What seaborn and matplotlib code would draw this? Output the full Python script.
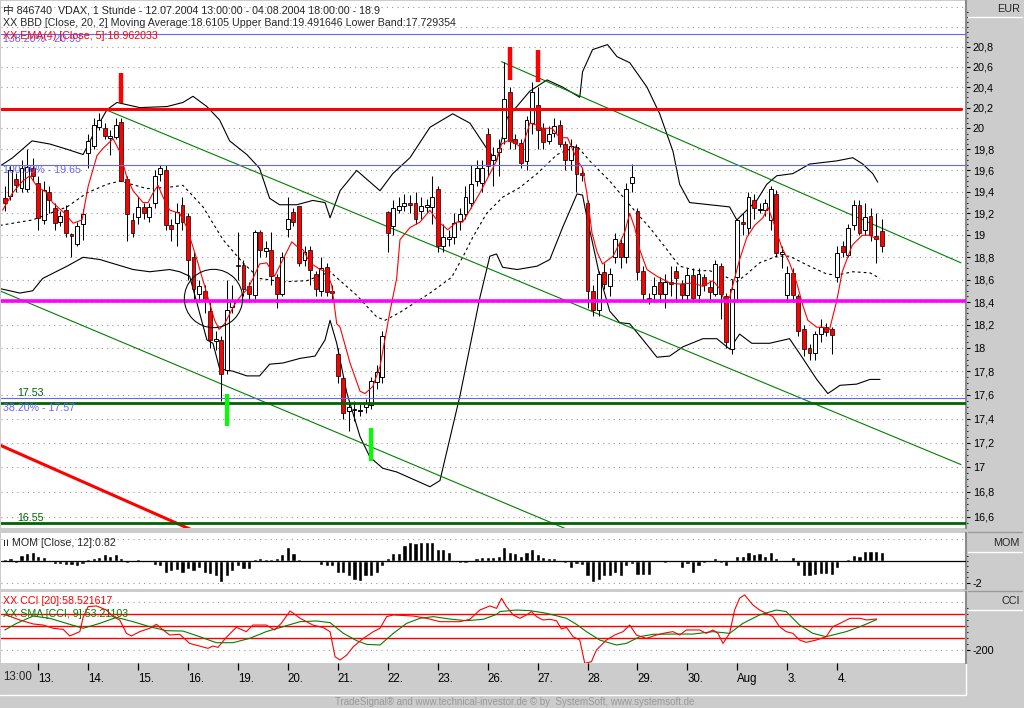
import numpy as np
import pandas as pd
import matplotlib
matplotlib.use("Agg")
import matplotlib.pyplot as plt
import matplotlib.ticker as mticker
from matplotlib.lines import Line2D
import seaborn as sns

# ---------------- data (hourly bars, 12.07.2004 13:00 - 04.08.2004 18:00) ----------------
opens = [
    19.34, 19.36, 19.52, 19.44, 19.43, 19.62, 19.48, 19.14, 19.40, 19.25,
    19.12, 19.23, 19.01, 18.92, 19.10, 19.76, 19.83, 20.01, 20.00, 19.91,
    19.92, 20.06, 19.52, 19.14, 19.17, 19.26, 19.17, 19.30, 19.57, 19.60,
    19.09, 19.11, 19.28, 19.18, 18.80, 18.47, 18.50, 18.32, 18.06, 18.07,
    17.81, 18.36, 18.73, 18.73, 18.54, 18.46, 19.03, 18.86, 18.87, 18.62,
    18.47, 19.06, 19.21, 19.27, 18.78, 18.87, 18.65, 18.50, 18.71, 18.50,
    17.95, 17.74, 17.46, 17.47, 17.46, 17.50, 17.51, 17.71, 17.75, 19.21,
    19.08, 19.23, 19.27, 19.30, 19.30, 19.22, 19.26, 19.26, 19.43, 18.90,
    18.97, 18.98, 19.13, 19.19, 19.30, 19.50, 19.48, 19.95, 19.70, 19.77,
    19.91, 20.35, 19.90, 19.86, 19.69, 20.05, 20.23, 20.00, 19.88, 19.96,
    20.03, 19.85, 19.70, 19.82, 19.58, 19.30, 18.50, 18.33, 18.67, 18.54,
    18.80, 18.93, 18.80, 19.48, 19.22, 18.68, 18.44, 18.47, 18.58, 18.47,
    18.58, 18.68, 18.56, 18.46, 18.64, 18.46, 18.62, 18.53, 18.47, 18.72,
    18.45, 17.99, 18.62, 19.12, 19.07, 19.32, 19.23, 19.23, 19.14, 19.38,
    18.83, 18.46, 18.66, 18.45, 18.16, 18.00, 17.96, 18.12, 18.18, 18.16,
    18.62, 18.90, 18.82, 19.09, 19.28, 19.05, 19.18, 18.99, 19.04,
]
highs = [
    19.45, 19.65, 19.58, 19.70, 19.80, 19.72, 19.55, 19.50, 19.45, 19.30,
    19.22, 19.28, 19.02, 19.12, 19.24, 19.95, 20.10, 20.15, 20.05, 19.98,
    20.10, 20.10, 19.55, 19.20, 19.35, 19.30, 19.30, 19.60, 19.65, 19.65,
    19.15, 19.30, 19.35, 19.20, 18.85, 18.60, 18.55, 18.40, 18.15, 18.10,
    18.60, 18.55, 19.03, 18.78, 18.58, 19.05, 19.05, 18.95, 19.03, 18.65,
    18.85, 19.35, 19.25, 19.27, 18.90, 18.90, 18.68, 18.80, 18.75, 18.55,
    18.00, 17.76, 17.55, 17.55, 17.52, 17.56, 17.75, 17.85, 18.15, 19.22,
    19.32, 19.35, 19.38, 19.37, 19.40, 19.35, 19.33, 19.55, 19.45, 19.10,
    19.05, 19.20, 19.25, 19.45, 19.65, 19.70, 19.70, 20.00, 19.82, 19.90,
    20.65, 20.40, 19.95, 19.90, 20.12, 20.45, 20.40, 20.05, 20.02, 20.10,
    20.08, 19.88, 19.90, 19.85, 19.62, 19.32, 18.55, 18.68, 18.75, 18.70,
    19.02, 18.97, 19.48, 19.66, 19.25, 18.72, 18.48, 18.62, 18.62, 18.65,
    18.72, 18.72, 18.60, 18.70, 18.70, 18.70, 18.65, 18.60, 18.78, 18.75,
    18.48, 18.60, 19.15, 19.20, 19.40, 19.38, 19.30, 19.33, 19.45, 19.42,
    18.90, 18.72, 18.70, 18.47, 18.20, 18.03, 18.15, 18.25, 18.22, 18.18,
    18.90, 18.95, 19.10, 19.32, 19.32, 19.30, 19.25, 19.20, 19.15,
]
lows = [
    19.22, 19.32, 19.40, 19.40, 19.40, 19.50, 19.05, 19.10, 19.20, 19.05,
    19.08, 18.98, 18.80, 18.90, 18.96, 19.62, 19.80, 19.98, 19.90, 19.75,
    19.90, 19.50, 18.95, 18.98, 19.10, 19.15, 19.12, 19.25, 19.50, 19.05,
    18.95, 18.90, 19.05, 18.60, 18.42, 18.40, 18.30, 18.00, 17.98, 17.55,
    17.78, 18.30, 18.60, 18.45, 18.40, 18.43, 18.80, 18.80, 18.55, 18.35,
    18.45, 18.98, 19.08, 18.72, 18.72, 18.55, 18.45, 18.45, 18.45, 18.40,
    17.70, 17.40, 17.30, 17.38, 17.42, 17.45, 17.48, 17.65, 17.70, 18.85,
    19.00, 19.20, 19.22, 19.20, 19.10, 19.15, 19.20, 19.10, 18.85, 18.85,
    18.90, 18.92, 19.05, 19.15, 19.25, 19.45, 19.40, 19.55, 19.45, 19.55,
    19.85, 19.80, 19.80, 19.62, 19.60, 19.95, 19.80, 19.80, 19.85, 19.92,
    19.82, 19.60, 19.60, 19.40, 19.50, 18.35, 18.28, 18.28, 18.52, 18.45,
    18.75, 18.70, 18.75, 19.40, 18.60, 18.40, 18.38, 18.40, 18.40, 18.35,
    18.45, 18.40, 18.40, 18.40, 18.40, 18.40, 18.50, 18.40, 18.45, 18.25,
    18.00, 17.95, 18.40, 19.00, 19.00, 19.15, 19.20, 19.18, 19.05, 18.80,
    18.70, 18.40, 18.40, 18.10, 17.93, 17.90, 17.90, 18.05, 18.10, 17.95,
    18.58, 18.80, 18.80, 19.05, 19.00, 19.00, 18.95, 18.75, 18.85,
]
closes = [
    19.30, 19.60, 19.46, 19.62, 19.63, 19.55, 19.16, 19.42, 19.32, 19.11,
    19.18, 19.02, 18.99, 19.08, 19.19, 19.88, 20.03, 20.08, 19.93, 19.93,
    20.03, 19.50, 19.19, 19.02, 19.26, 19.20, 19.26, 19.55, 19.62, 19.09,
    19.06, 19.21, 19.12, 18.78, 18.52, 18.54, 18.43, 18.07, 18.08, 17.78,
    18.33, 18.41, 18.72, 18.52, 18.47, 19.03, 18.87, 18.88, 18.63, 18.47,
    18.80, 19.15, 19.12, 18.75, 18.85, 18.69, 18.52, 18.70, 18.49, 18.48,
    17.76, 17.45, 17.50, 17.48, 17.47, 17.53, 17.72, 17.79, 18.10, 19.02,
    19.25, 19.27, 19.30, 19.28, 19.15, 19.27, 19.28, 19.35, 18.90, 18.98,
    18.98, 19.11, 19.19, 19.35, 19.47, 19.62, 19.62, 19.64, 19.75, 19.81,
    20.28, 19.88, 19.86, 19.67, 20.08, 20.35, 19.98, 19.87, 19.95, 20.02,
    19.85, 19.70, 19.83, 19.57, 19.56, 18.50, 18.33, 18.65, 18.56, 18.65,
    18.97, 18.80, 19.43, 19.54, 18.67, 18.47, 18.42, 18.54, 18.47, 18.58,
    18.56, 18.61, 18.46, 18.64, 18.44, 18.65, 18.55, 18.49, 18.74, 18.47,
    18.05, 18.52, 19.14, 19.10, 19.35, 19.25, 19.24, 19.30, 19.43, 18.84,
    18.85, 18.66, 18.46, 18.15, 17.99, 17.96, 18.12, 18.18, 18.14, 18.11,
    18.84, 18.85, 19.07, 19.28, 19.02, 19.17, 19.00, 18.97, 18.90,
]

# Bollinger bands (bar index, price)
bb_upper_bar = [-0.9, 1.4, 4.9, 8.1, 11.2, 14.1, 16.6, 18.4, 20.2, 24.3, 29.2, 32.1, 33.9, 36.4,
                38.7, 40.5, 43.6, 45.9, 47.7, 49.5, 52.6, 55.5, 57.7, 58.6, 60.4, 63.4, 67.6,
                69.9, 73.0, 76.6, 80.7, 83.8, 86.8, 88.6, 90.5, 94.6, 97.7, 100.5, 103.6,
                104.1, 105.9, 108.6, 110.3, 112.6, 115.7, 118.0, 120.4, 121.6, 123.4, 130.6,
                131.9, 133.7, 135.5, 137.3, 139.1, 142.0, 145.0, 149.9, 152.8, 154.6, 156.4, 157.3]
bb_upper_val = [19.64, 19.72, 19.88, 19.85, 19.80, 19.75, 20.01, 20.18, 20.25, 20.20, 20.21, 20.25,
                20.31, 20.21, 20.08, 19.88, 19.75, 19.62, 19.34, 19.28, 19.28, 19.32, 19.30, 19.16,
                19.41, 19.60, 19.41, 19.57, 19.72, 20.01, 20.14, 20.05, 19.81, 19.69, 20.10, 20.36,
                20.47, 20.40, 20.30, 20.55, 20.77, 20.82, 20.70, 20.64, 20.40, 20.14, 19.78, 19.47,
                19.30, 19.26, 19.14, 19.23, 19.32, 19.47, 19.55, 19.57, 19.66, 19.69, 19.72, 19.66,
                19.57, 19.49]
bb_mid_bar = [-0.9, 5.0, 11.2, 14.8, 18.4, 20.7, 25.6, 29.2, 32.1, 35.7, 39.3, 42.9, 45.9, 50.1,
              54.4, 58.6, 63.4, 67.0, 68.5, 71.2, 76.6, 80.5, 82.5, 84.3, 86.8, 89.7, 92.8, 95.9,
              99.5, 103.1, 105.4, 109.0, 113.9, 116.2, 119.3, 121.6, 124.7, 127.0, 130.1, 131.9,
              133.7, 136.0, 139.1, 141.4, 145.0, 148.1, 149.9, 152.8, 155.9, 157.7]
bb_mid_val = [19.09, 19.14, 19.26, 19.39, 19.47, 19.50, 19.43, 19.44, 19.46, 19.26, 18.96, 18.75,
              18.61, 18.58, 18.59, 18.67, 18.46, 18.27, 18.24, 18.31, 18.48, 18.62, 18.80, 18.98,
              19.20, 19.35, 19.44, 19.57, 19.75, 19.83, 19.69, 19.50, 19.20, 19.07, 18.87, 18.72,
              18.68, 18.68, 18.62, 18.58, 18.65, 18.75, 18.81, 18.81, 18.72, 18.65, 18.64, 18.67,
              18.66, 18.61]
bb_lower_bar = [-0.9, 2.7, 5.0, 6.8, 11.2, 14.1, 17.1, 23.1, 26.1, 29.7, 31.5, 33.3, 36.4, 37.5,
                38.7, 41.1, 43.6, 45.9, 47.7, 50.1, 53.2, 55.9, 57.7, 58.6, 59.8, 61.6, 64.0, 65.8,
                68.1, 70.6, 76.6, 78.4, 82.0, 85.6, 87.4, 88.6, 89.7, 92.3, 95.9, 98.2, 100.5,
                103.1, 104.1, 104.9, 105.9, 107.2, 109.0, 110.8, 112.6, 115.0, 117.5, 119.8, 122.2,
                125.8, 128.3, 130.6, 132.4, 134.6, 137.8, 141.4, 143.8, 146.3, 148.3, 150.5, 153.5,
                155.9, 157.7]
bb_lower_val = [18.52, 18.48, 18.50, 18.61, 18.72, 18.80, 18.78, 18.69, 18.67, 18.69, 18.67, 18.63,
                18.07, 18.04, 17.82, 17.80, 17.76, 17.76, 17.86, 17.87, 17.91, 17.93, 18.07, 18.24,
                18.04, 17.62, 17.25, 17.08, 16.99, 16.96, 16.84, 16.89, 17.59, 18.44, 18.81, 18.83,
                18.71, 18.69, 18.72, 18.78, 19.07, 19.38, 19.37, 19.16, 18.93, 18.63, 18.32, 18.22,
                18.21, 18.07, 17.92, 17.93, 18.01, 18.08, 18.08, 17.99, 18.12, 18.04, 18.04, 18.08,
                17.91, 17.73, 17.61, 17.68, 17.69, 17.73, 17.73]

# EMA(4) of close (bar index, price)
ema_bar = [-0.4, 1.4, 3.2, 4.5, 5.8, 7.6, 8.6, 10.8, 12.3, 13.9, 15.0, 16.6, 17.7, 19.5, 20.7, 22.0,
           23.1, 24.9, 25.8, 26.7, 27.6, 28.5, 29.7, 31.5, 32.8, 34.6, 36.6, 37.8, 38.6, 39.6, 41.4,
           42.6, 43.8, 44.7, 45.9, 47.2, 48.6, 50.1, 51.7, 52.6, 53.7, 55.0, 56.8, 58.0, 58.9, 59.8,
           60.4, 62.2, 64.0, 64.9, 66.3, 67.6, 69.4, 70.6, 71.2, 73.0, 74.8, 76.6, 77.8, 79.8, 81.4,
           82.5, 83.8, 85.6, 87.4, 88.6, 89.5, 90.6, 91.9, 93.2, 94.6, 95.9, 96.9, 98.6, 100.0,
           101.4, 103.1, 104.1, 104.9, 105.8, 106.7, 107.7, 109.6, 110.8, 111.7, 112.6, 113.5,
           114.4, 115.7, 117.5, 119.8, 121.6, 124.0, 125.8, 127.6, 128.8, 129.7, 130.6, 131.5,
           132.4, 133.7, 135.1, 136.6, 137.5, 138.7, 140.0, 141.4, 142.7, 143.8, 144.7, 146.3,
           147.4, 148.6, 149.9, 150.9, 152.7, 154.5, 155.7, 157.5]
ema_val = [19.23, 19.39, 19.50, 19.55, 19.45, 19.39, 19.30, 19.20, 19.11, 19.14, 19.45, 19.74, 19.81,
           19.90, 19.78, 19.53, 19.41, 19.30, 19.30, 19.39, 19.46, 19.35, 19.23, 19.20, 19.07, 18.78,
           18.44, 18.24, 18.16, 18.21, 18.38, 18.46, 18.52, 18.61, 18.74, 18.75, 18.63, 18.78, 18.94,
           18.90, 18.87, 18.75, 18.69, 18.67, 18.55, 18.21, 18.18, 17.87, 17.63, 17.61, 17.67, 17.84,
           18.32, 18.61, 18.96, 19.07, 19.12, 19.23, 19.14, 19.05, 19.12, 19.12, 19.23, 19.39, 19.57,
           19.69, 19.85, 19.88, 19.86, 19.81, 20.05, 20.03, 20.00, 20.00, 19.91, 19.91, 19.70, 19.62,
           19.38, 19.02, 18.85, 18.74, 18.81, 18.93, 19.03, 19.20, 19.07, 18.87, 18.69, 18.63, 18.57,
           18.56, 18.57, 18.54, 18.59, 18.52, 18.41, 18.44, 18.61, 18.78, 18.98, 19.09, 19.16, 19.26,
           19.09, 18.89, 18.75, 18.57, 18.37, 18.24, 18.18, 18.18, 18.16, 18.41, 18.67, 18.91, 19.00,
           19.00, 18.96]

# MOM [Close, 12] per bar
mom = [
    0.15, 0.3, -0.2, 0.55, 0.7, 0.8, 0.45, 0.4, 0.0, -0.3, -0.3,
    -0.4, -0.35, -0.5, -0.3, 0.2, 0.3, 0.4, 0.65, 0.45, 0.65,
    0.3, -0.15, -0.1, 0.15, 0.1, 0.0, -0.4, -0.5, -1.05, -0.95,
    -0.8, -1.05, -0.75, -0.9, -0.65, -1.1, -1.2, -1.35, -1.9, -1.35,
    -0.95, -0.5, -0.75, -0.75, 0.2, 0.3, 0.2, 0.2, 0.3, 0.6,
    1.3, 0.7, 0.2, 0.1, 0.1, 0.0, -0.4, -0.45, -0.45, -1.1,
    -1.1, -1.35, -1.7, -1.8, -1.35, -1.35, -1.05, -0.5, 0.3, 0.7,
    0.75, 1.45, 1.7, 1.6, 1.7, 1.7, 1.7, 1.1, 1.1, 0.85,
    0.0, -0.2, -0.2, 0.0, 0.3, 0.4, 0.4, 0.4, 0.45,
    1.3, 0.8, 0.7, 0.45, 0.8, 1.1, 0.6, 0.35, 0.3, 0.3,
    0.0, -0.2, -0.6, -0.3, -0.4, -1.4, -1.9, -1.7, -1.4, -1.35,
    -1.05, -1.35, -0.5, -0.3, -1.25, -1.25, -1.25, 0.0, 0.1, -0.2,
    -0.1, -0.1, -0.65, -0.3, -1.1, -0.5, -0.2, 0.0, 0.3, -0.2,
    -0.45, -0.1, 0.5, 0.5, 0.8, 0.6, 0.7, 0.5, 0.8, 0.3,
    0.0, 0.1, 0.4, -0.5, -1.35, -1.35, -1.25, -1.2, -1.2, -1.25,
    -0.6, -0.1, 0.2, 0.55, 0.5, 0.9, 0.9, 0.9, 0.82,
]

# CCI(20) and SMA(CCI, 9) (bar index, value)
cci_bar = [0.0, 2.7, 5.1, 6.9, 8.7, 10.5, 11.7, 13.5, 14.1, 15.0, 16.5, 18.3, 19.5, 20.7, 21.9, 22.8,
           24.3, 26.1, 27.3, 28.5, 29.7, 31.5, 33.3, 35.1, 36.6, 37.5, 38.4, 39.9, 41.7, 43.5, 44.7,
           47.1, 48.6, 49.8, 51.4, 53.2, 55.5, 57.4, 58.6, 59.5, 60.4, 61.6, 62.8, 64.6, 66.4, 67.6,
           68.8, 70.0, 73.6, 76.0, 78.4, 82.0, 83.8, 85.6, 87.4, 88.6, 89.5, 90.4, 91.6, 92.8, 94.0,
           94.9, 95.8, 97.0, 98.2, 99.4, 100.3, 101.2, 102.4, 103.6, 104.5, 105.7, 106.6, 108.4,
           109.9, 111.4, 112.6, 113.8, 115.6, 117.4, 119.2, 120.4, 121.6, 122.8, 125.2, 126.4,
           127.6, 128.5, 129.4, 130.6, 131.5, 132.4, 133.3, 134.8, 136.0, 137.2, 138.4, 139.6,
           140.8, 142.0, 143.2, 144.4, 146.2, 148.0, 149.2, 150.5, 152.3, 154.1, 155.3, 157.1]
cci_val = [95, 50, 17, 8, -19, -28, -83, -47, 72, 161, 167, 133, 78, 50, -61, -83, -47, -19, 14, -33,
           -75, -69, -145, -167, -186, -167, -178, -95, -11, -47, 8, 8, -33, 22, 125, 64, 8, -14,
           -47, -256, -283, -242, -172, -103, -47, -19, 78, 92, 83, 64, 36, 36, 56, 133, 167, 147,
           231, 161, 92, 64, 92, 120, 78, 50, 56, 44, -25, -11, -89, -117, -311, -297, -200, -117,
           -75, -47, 8, -75, -103, -75, -56, -47, -75, -33, -33, -61, -33, -61, -145, -61, 133, 231,
           259, 175, 133, 106, 78, -6, -47, -61, -117, -136, -117, -89, -6, 22, 64, 64, 50, 58.5]
sma_bar = [0.0, 2.1, 5.1, 8.1, 11.1, 14.1, 17.1, 20.1, 23.1, 26.1, 29.1, 32.1, 35.1, 38.1, 41.1, 44.1,
           47.1, 50.1, 53.2, 56.2, 58.6, 61.0, 63.4, 65.2, 67.6, 70.0, 72.4, 74.8, 77.2, 80.2, 83.2,
           86.2, 88.6, 89.2, 92.2, 94.6, 97.6, 101.2, 103.0, 104.8, 107.2, 110.2, 112.0, 114.4,
           116.8, 120.4, 124.0, 127.6, 130.6, 133.0, 136.0, 139.0, 140.8, 143.2, 145.6, 148.0,
           151.6, 154.1, 157.1]
sma_val = [-33, 22, 83, 64, 22, -19, 22, 72, 36, -6, -39, -42, -89, -139, -139, -103, -47, -6, 36, 42,
           28, -61, -122, -153, -158, -61, 22, 64, 78, 58, 44, 56, 97, 120, 133, 128, 106, 64, 14,
           -47, -117, -158, -145, -89, -69, -67, -67, -47, -61, 22, 92, 133, 120, 8, -61, -89, -47,
           -6, 53.2]

# horizontal levels and drawn objects
fib_levels = [20.93, 19.65, 17.57]
fib_texts = ["138.20% - 20.93", "100.00% - 19.65", "38.20% - 17.57"]
resistance_level = 20.19
pivot_level = 18.41
support_levels = [17.53, 16.55]
channel_upper = ([18.6, 172.3], [20.17, 17.02])
channel_lower = ([-0.9, 104.0], [18.50, 16.45])
channel_right = ([89.5, 172.3], [20.65, 18.75])
downtrend_red = ([-0.9, 36.0], [17.18, 16.45])
sell_bars, sell_top, sell_bot = [21, 91, 96], [20.54, 20.80, 20.77], [20.24, 20.47, 20.45]
buy_bars, buy_top, buy_bot = [40, 66], [17.61, 17.32], [17.34, 17.05]
circle_bar, circle_price = 37.5, 18.44

day_ticks = [6, 15, 24, 33, 42, 51, 60, 69, 78, 87, 96, 105, 114, 123, 132, 141, 150]
day_labels = ["13.", "14.", "15.", "16.", "19.", "20.", "21.", "22.", "23.", "26.", "27.",
              "28.", "29.", "30.", "Aug", "3.", "4."]
price_ticks = [16.6, 16.8, 17.0, 17.2, 17.4, 17.6, 17.8, 18.0, 18.2, 18.4, 18.6, 18.8,
               19.0, 19.2, 19.4, 19.6, 19.8, 20.0, 20.2, 20.4, 20.6, 20.8]

# ---------------- style ----------------
sns.set_style("white")
plt.rcParams['font.family'] = ['Liberation Sans', 'DejaVu Sans', 'Noto Sans CJK SC']
plt.rcParams['lines.scale_dashes'] = False

GREY = '#cccccc'
BLUE = '#6464ff'
DOTS = dict(color='#9a9a9a', lw=0.8, linestyle=(0, (0.8, 3.0)), zorder=0)
FS = 7.7

W, H = 1024, 708
def fx(px):
    return px / W
def fy(py):
    return 1 - py / H

fig = plt.figure(figsize=(10.24, 7.08), dpi=100, facecolor=GREY)
ax = fig.add_axes([fx(1), fy(528), fx(965), 527 / H])
ax_mom = fig.add_axes([fx(1), fy(589), fx(965), 56 / H])
ax_cci = fig.add_axes([fx(1), fy(663), fx(965), 71 / H])

n = len(closes)
bars = np.arange(n)
df = pd.DataFrame({'bar': bars, 'open': opens, 'high': highs, 'low': lows, 'close': closes})

for a in (ax, ax_mom, ax_cci):
    a.set_facecolor('white')
    for s in ('top', 'left', 'bottom'):
        a.spines[s].set_visible(False)
    a.spines['right'].set_color('#8c8c8c')
    a.spines['right'].set_linewidth(1.5)
    a.set_xlim(-0.7, 173.2)
    a.yaxis.tick_right()
    a.tick_params(axis='y', which='major', labelsize=7.8, length=3, width=0.8, pad=2, colors='black')
    a.tick_params(axis='y', which='minor', length=1.2, width=0.8)
    a.tick_params(axis='x', which='both', bottom=False, labelbottom=False)

# ---------------- main price panel ----------------
ax.set_yscale('log')
ax.set_ylim(16.51, 21.26)
ax.yaxis.set_major_locator(mticker.FixedLocator(price_ticks))
ax.yaxis.set_major_formatter(mticker.FixedFormatter([f"{v:g}".replace('.', ',') for v in price_ticks]))
ax.yaxis.set_minor_locator(mticker.FixedLocator(np.arange(16.55, 21.2, 0.05)))
ax.yaxis.set_minor_formatter(mticker.NullFormatter())

for v in price_ticks + [21.0, 21.2]:
    ax.axhline(v, **DOTS)

# bollinger bands
sns.lineplot(x=bb_upper_bar, y=bb_upper_val, ax=ax, color='black', lw=0.8, sort=False,
             estimator=None, legend=False, zorder=2)
sns.lineplot(x=bb_lower_bar, y=bb_lower_val, ax=ax, color='black', lw=0.8, sort=False,
             estimator=None, legend=False, zorder=2)
sns.lineplot(x=bb_mid_bar, y=bb_mid_val, ax=ax, color='black', lw=0.8, sort=False,
             estimator=None, legend=False, zorder=2, linestyle=(0, (2.0, 2.2)))

# trend channel lines
for xs, ys in (channel_upper, channel_lower, channel_right):
    ax.plot(xs, ys, color='#008000', lw=0.8, zorder=2)
ax.plot(*downtrend_red, color='#ff0000', lw=2.2, zorder=2)

# candles
up = df[df['close'] >= df['open']]
dn = df[df['close'] < df['open']]
ax.vlines(df['bar'], df['low'], df['high'], color='black', lw=0.75, zorder=3)
ax.bar(up['bar'], np.maximum(up['close'] - up['open'], 0.012), bottom=up['open'], width=0.7,
       color='white', edgecolor='black', linewidth=0.7, zorder=4)
ax.bar(dn['bar'], np.maximum(dn['open'] - dn['close'], 0.012), bottom=dn['close'], width=0.7,
       color='#ff0000', edgecolor='black', linewidth=0.5, zorder=4)

# EMA
sns.lineplot(x=ema_bar, y=ema_val, ax=ax, color='#ff0000', lw=0.8, sort=False,
             estimator=None, legend=False, zorder=5)

# levels
for v in fib_levels:
    ax.axhline(v, color=BLUE, lw=0.8, zorder=6)
ax.axhline(resistance_level, xmax=0.995, color='#ff0000', lw=2.2, zorder=6)
ax.axhline(pivot_level, color='#ff00ff', lw=2.6, zorder=6)
for v in support_levels:
    ax.axhline(v, color='#006400', lw=2.0, zorder=6)

# signal markers and circle
ax.vlines(sell_bars, sell_bot, sell_top, color='#ff0000', lw=3.2, zorder=7)
ax.vlines(buy_bars, buy_bot, buy_top, color='#00ff00', lw=3.0, zorder=7)
ax.plot([circle_bar], [circle_price], marker='o', ms=42, mfc='none', mec='black', mew=0.75, zorder=7)

# level labels
yt = ax.get_yaxis_transform()
ax.text(0.002, fib_levels[0], fib_texts[0], transform=yt, color=BLUE, fontsize=FS, va='top', zorder=8)
ax.text(0.002, fib_levels[1], fib_texts[1], transform=yt, color=BLUE, fontsize=FS, va='top', zorder=8)
ax.text(0.002, support_levels[0], fib_texts[2], transform=yt, color=BLUE, fontsize=FS, va='top', zorder=8)
ax.text(0.017, fib_levels[2], f"{support_levels[0]:.2f}", transform=yt, color='#006400',
        fontsize=FS, va='bottom', zorder=8)
ax.text(0.017, support_levels[1], f"{support_levels[1]:.2f}", transform=yt, color='#006400',
        fontsize=FS, va='bottom', zorder=8)

# ---------------- momentum panel ----------------
ax_mom.set_ylim(-2.55, 2.55)
ax_mom.bar(bars, mom, width=0.75, color='black', zorder=3)
ax_mom.axhline(0, color='black', lw=0.9, zorder=4)
for v in (2, -2):
    ax_mom.axhline(v, **DOTS)
ax_mom.yaxis.set_major_locator(mticker.FixedLocator([-2]))
ax_mom.yaxis.set_major_formatter(mticker.FixedFormatter(["-2"]))
ax_mom.yaxis.set_minor_locator(mticker.FixedLocator([-1.5, -1, -0.5, 0, 0.5]))

# ---------------- CCI panel ----------------
ax_cci.set_ylim(-308, 283)
for v in (200, -200):
    ax_cci.axhline(v, **DOTS)
for v in (100, 0, -100):
    ax_cci.axhline(v, color='#ff0000', lw=1.0, zorder=2)
sns.lineplot(x=sma_bar, y=sma_val, ax=ax_cci, color='#008000', lw=0.8, sort=False,
             estimator=None, legend=False, zorder=3)
sns.lineplot(x=cci_bar, y=cci_val, ax=ax_cci, color='#ff0000', lw=0.8, sort=False,
             estimator=None, legend=False, zorder=4)
ax_cci.yaxis.set_major_locator(mticker.FixedLocator([-200]))
ax_cci.yaxis.set_major_formatter(mticker.FixedFormatter(["-200"]))
ax_cci.yaxis.set_minor_locator(mticker.FixedLocator([-150, -100, -50, 0, 50, 100, 150]))

ax_cci.set_xticks(day_ticks)
ax_cci.set_xticklabels(day_labels)
ax_cci.tick_params(axis='x', which='major', bottom=True, labelbottom=True, direction='out',
                   length=5, width=0.9, colors='black', labelsize=8.3, pad=2)
for lbl in ax_cci.get_xticklabels():
    lbl.set_horizontalalignment('left')
ax_cci.text(-0.3, -0.115, "13:00", transform=ax_cci.get_xaxis_transform(), fontsize=8.3,
            ha='left', va='top')
for a in (ax, ax_mom, ax_cci):
    a.set_xlabel('')
    a.set_ylabel('')

# ---------------- header texts ----------------
fig.text(fx(3), fy(10), "中 846740  VDAX, 1 Stunde - 12.07.2004 13:00:00 - 04.08.2004 18:00:00 - 18.9",
         fontsize=FS, va='center', ha='left')
fig.text(fx(3), fy(23), "XX BBD [Close, 20, 2] Moving Average:18.6105 Upper Band:19.491646 Lower Band:17.729354",
         fontsize=FS, va='center', ha='left')
fig.text(fx(3), fy(36), "XX EMA(4) [Close, 5]:18.962033", fontsize=FS, va='center', ha='left',
         color='#ff0000')
fig.text(fx(3), fy(543), "ıı MOM [Close, 12]:0.82", fontsize=FS, va='center', ha='left')
fig.text(fx(3), fy(601), "XX CCI [20]:58.521617", fontsize=FS, va='center', ha='left', color='#ff0000')
fig.text(fx(3), fy(614), "XX SMA [CCI, 9]:53.21103", fontsize=FS, va='center', ha='left', color='#008000')

# right-hand axis captions
fig.text(fx(1020), fy(9), "EUR", fontsize=7.8, ha='right', va='center')
fig.text(fx(1020), fy(543), "MOM", fontsize=7.8, ha='right', va='center')
fig.text(fx(1020), fy(601), "CCI", fontsize=7.8, ha='right', va='center')
for py in (17, 552, 610):
    fig.add_artist(Line2D([fx(968), fx(1022)], [fy(py), fy(py)], color='white', lw=1))
for py in (532, 591):
    fig.add_artist(Line2D([fx(968), fx(1022)], [fy(py), fy(py)], color='#9a9a9a', lw=1))
fig.add_artist(Line2D([fx(0), fx(966)], [fy(695), fy(695)], color='white', lw=1))
fig.add_artist(Line2D([fx(966), fx(966)], [fy(664), fy(695)], color='white', lw=1))

# footer
fig.text(fx(335), fy(702), "TradeSignal\u00ae and www.technical-investor.de \u00a9 by  SystemSoft, www.systemsoft.de",
         fontsize=7.0, color='#999999', ha='left', va='center')

fig.savefig("out.png", dpi=100, facecolor=GREY)
